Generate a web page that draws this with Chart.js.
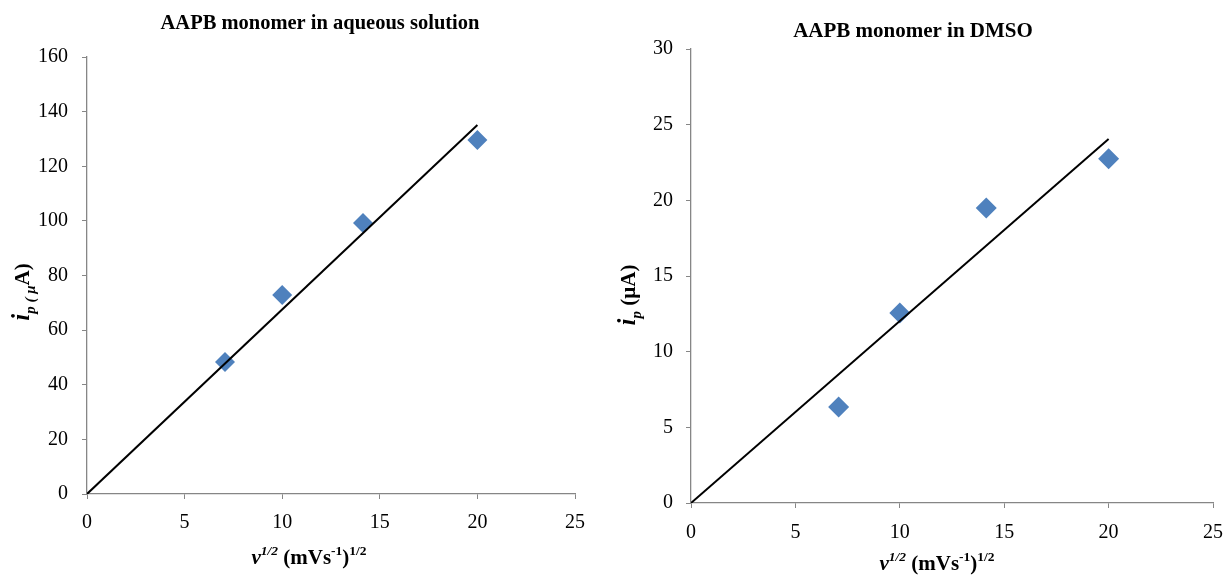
<!DOCTYPE html>
<html>
<head>
<meta charset="utf-8">
<script src="https://cdn.jsdelivr.net/npm/chart.js@4.4.1/dist/chart.umd.min.js"></script>
<style>
  body { margin: 0; background: #fff; }
  .wrap { position: absolute; top: 0; }
</style>
</head>
<body>
<div class="wrap" style="left:0"><canvas id="aqChart" width="600" height="575"></canvas></div>
<div class="wrap" style="left:600px"><canvas id="dmsoChart" width="625" height="575"></canvas></div>
<script>
// 데이터
const sqrtScanRate = [7.07, 10, 14.14, 20];
const aqPeakCurrent = [48.3, 72.9, 99.2, 129.6];
const dmsoPeakCurrent = [6.34, 12.56, 19.5, 22.74];

// 추세선 (원점 통과)
const trendX = [0, 20];
const aqTrendY = [0, 135.1];
const dmsoTrendY = [0, 24.06];

const aqTicksY = [0, 20, 40, 60, 80, 100, 120, 140, 160];
const dmsoTicksY = [0, 5, 10, 15, 20, 25, 30];
const ticksX = [0, 5, 10, 15, 20, 25];

const FONT = "'Liberation Serif', 'Times New Roman', serif";
const AXIS_GRAY = "#868686";
const MARKER_BLUE = "#4F81BD";

function toPoints(xs, ys) {
  return xs.map((x, i) => ({ x: x, y: ys[i] }));
}

// 이탤릭/첨자가 섞인 텍스트 그리기
function drawRich(ctx, parts, cx, cy, rotate) {
  ctx.save();
  ctx.translate(cx, cy);
  if (rotate) ctx.rotate(-Math.PI / 2);
  ctx.fillStyle = "#000";
  ctx.textBaseline = "alphabetic";
  ctx.textAlign = "left";
  let total = 0;
  parts.forEach((p) => {
    ctx.font = (p.it ? "italic " : "") + "bold " + p.sz + "px " + FONT;
    p.w = ctx.measureText(p.t).width;
    total += p.w;
  });
  let x = -total / 2;
  parts.forEach((p) => {
    ctx.font = (p.it ? "italic " : "") + "bold " + p.sz + "px " + FONT;
    ctx.fillText(p.t, x, 7 + (p.dy || 0));
    x += p.w;
  });
  ctx.restore();
}

// 차트 제목 + 축 제목
const titlesPlugin = {
  id: "titles",
  afterDraw(chart, args, opts) {
    const ctx = chart.ctx;
    drawRich(ctx, [{ t: opts.title, sz: opts.titleSize }], opts.titlePos[0], opts.titlePos[1], false);
    drawRich(ctx, opts.xParts, opts.xPos[0], opts.xPos[1], false);
    drawRich(ctx, opts.yParts, opts.yPos[0], opts.yPos[1], true);
  },
};

const xTitleParts = () => [
  { t: "v", it: true, sz: 21 },
  { t: "1/2", it: true, sz: 13.5, dy: -9 },
  { t: " (mVs", sz: 21 },
  { t: "-1", sz: 13.5, dy: -9 },
  { t: ")", sz: 21 },
  { t: "1/2", sz: 13.5, dy: -9 },
];

function makeChart(id, cfg) {
  return new Chart(document.getElementById(id).getContext("2d"), {
    type: "scatter",
    data: {
      datasets: [
        {
          label: "data",
          data: toPoints(sqrtScanRate, cfg.values),
          backgroundColor: MARKER_BLUE,
          borderColor: MARKER_BLUE,
          borderWidth: 0,
          pointStyle: "rectRot",
          pointRadius: cfg.radius,
          pointHoverRadius: cfg.radius,
          order: 2,
        },
        {
          type: "line",
          label: "trend",
          data: toPoints(trendX, cfg.trend),
          borderColor: "#000",
          borderWidth: 2,
          pointRadius: 0,
          fill: false,
          order: 1,
        },
      ],
    },
    options: {
      responsive: false,
      animation: false,
      layout: { padding: { left: 0, right: cfg.padRight, top: cfg.padTop, bottom: 0 } },
      plugins: {
        legend: { display: false },
        tooltip: { enabled: false },
        title: { display: false },
        titles: cfg.titles,
      },
      scales: {
        x: {
          type: "linear",
          min: 0,
          max: 25,
          afterBuildTicks: (s) => { s.ticks = ticksX.map((v) => ({ value: v })); },
          afterFit: (s) => {
            s.height = cfg.xHeight;
            s.paddingLeft = 0;
            s.paddingRight = 0;
          },
          ticks: { color: "#000", font: { family: FONT, size: 20 }, padding: cfg.xTickPad },
          grid: { drawOnChartArea: false, color: AXIS_GRAY, tickLength: 5 },
          border: { color: AXIS_GRAY, width: 1.3 },
        },
        y: {
          type: "linear",
          min: 0,
          max: cfg.yMax,
          afterBuildTicks: (s) => { s.ticks = cfg.yTicks.map((v) => ({ value: v })); },
          afterFit: (s) => {
            s.width = cfg.yWidth;
            s.paddingTop = 0;
            s.paddingBottom = 0;
          },
          ticks: { color: "#000", font: { family: FONT, size: 20 }, padding: cfg.yTickPad },
          grid: { drawOnChartArea: false, color: AXIS_GRAY, tickLength: 5 },
          border: { color: AXIS_GRAY, width: 1.3 },
        },
      },
    },
    plugins: [titlesPlugin],
  });
}

makeChart("aqChart", {
  values: aqPeakCurrent,
  trend: aqTrendY,
  yMax: 160,
  yTicks: aqTicksY,
  radius: 10,
  padTop: 57,
  padRight: 25,
  xHeight: 81,
  yWidth: 87,
  xTickPad: 12,
  yTickPad: 14,
  titles: {
    title: "AAPB monomer in aqueous solution",
    titleSize: 20.5,
    titlePos: [320, 22],
    xParts: xTitleParts(),
    xPos: [309, 557],
    yParts: [
      { t: "i", it: true, sz: 25 },
      { t: "p ( μ", it: true, sz: 15, dy: 6 },
      { t: "A)", sz: 21 },
    ],
    yPos: [22, 292],
  },
});

makeChart("dmsoChart", {
  values: dmsoPeakCurrent,
  trend: dmsoTrendY,
  yMax: 30,
  yTicks: dmsoTicksY,
  radius: 10.5,
  padTop: 49,
  padRight: 12,
  xHeight: 72,
  yWidth: 91,
  xTickPad: 13,
  yTickPad: 13,
  titles: {
    title: "AAPB monomer in DMSO",
    titleSize: 21,
    titlePos: [313, 30],
    xParts: xTitleParts(),
    xPos: [337, 563],
    yParts: [
      { t: "i", it: true, sz: 25 },
      { t: "p", it: true, sz: 15, dy: 6 },
      { t: " (µA)", sz: 21 },
    ],
    yPos: [28, 295],
  },
});
</script>
</body>
</html>
